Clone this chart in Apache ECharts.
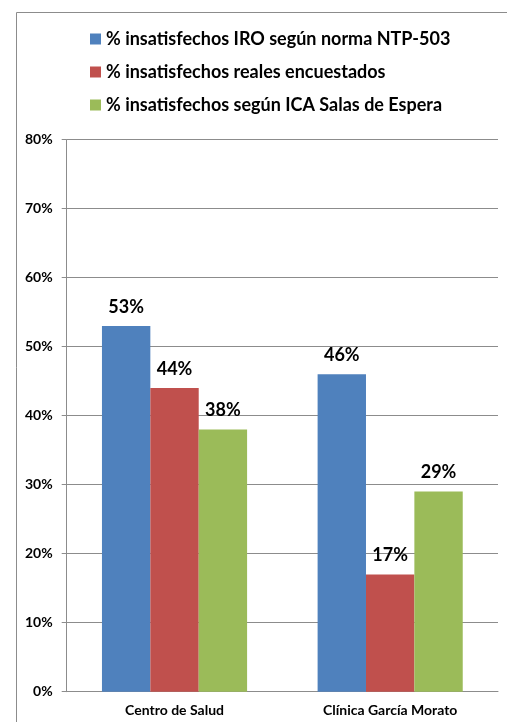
<!DOCTYPE html>
<html><head><meta charset="utf-8">
<script src="https://cdn.jsdelivr.net/npm/echarts@6/dist/echarts.min.js"></script>
<style>html,body{margin:0;padding:0;background:#fff}#c{width:507px;height:722px}</style>
</head><body><div id="c"></div>
<script>
const categories = ['Centro de Salud', 'Clínica García Morato'];
const seriesNames = ['% insatisfechos IRO según norma NTP-503', '% insatisfechos reales encuestados', '% insatisfechos según ICA Salas de Espera'];
const iroValues = [53, 46];
const realValues = [44, 17];
const icaValues = [38, 29];
const yTicks = [0, 10, 20, 30, 40, 50, 60, 70, 80];
const colors = ['#4F81BD', '#C0504D', '#9BBB59'];
const FONT = 'Lato';
const chart = echarts.init(document.getElementById('c'));
const valueSets = [iroValues, realValues, icaValues];
chart.setOption({
  animation: false,
  graphic: [{type: 'rect', left: 14, top: 10, shape: {width: 600, height: 800}, style: {fill: 'none', stroke: '#8c8c8c', lineWidth: 1}, silent: true}],
  legend: {
    orient: 'vertical', left: 85, top: 25, itemWidth: 11, itemHeight: 11, itemGap: 15,
    icon: 'rect',
    textStyle: {fontFamily: FONT, fontWeight: 'bold', fontSize: 18, color: '#000'},
    data: seriesNames
  },
  grid: {left: 66.7, top: 139.7, right: 9, bottom: 30.3},
  xAxis: {
    type: 'category', data: categories,
    axisLine: {lineStyle: {color: '#8c8c8c'}},
    axisTick: {length: 5, lineStyle: {color: '#8c8c8c'}},
    axisLabel: {fontFamily: FONT, fontWeight: 'bold', fontSize: 14, color: '#000', margin: 12}
  },
  yAxis: {
    type: 'value', min: yTicks[0], max: yTicks[yTicks.length - 1], interval: 10,
    axisLine: {show: true, lineStyle: {color: '#8c8c8c'}},
    axisTick: {show: true, length: 5, lineStyle: {color: '#8c8c8c'}},
    splitLine: {lineStyle: {color: '#8c8c8c'}},
    axisLabel: {fontFamily: FONT, fontWeight: 'bold', fontSize: 14, color: '#000', margin: 14, formatter: v => v + '%'}
  },
  series: seriesNames.map((n, i) => ({
    name: n, type: 'bar', data: valueSets[i], barGap: '0%', barCategoryGap: '32.7%',
    itemStyle: {color: colors[i]},
    label: {show: true, position: 'top', distance: 10, fontFamily: FONT, fontWeight: 'bold', fontSize: 18, color: '#000', formatter: p => p.value + '%'}
  }))
});
</script></body></html>
